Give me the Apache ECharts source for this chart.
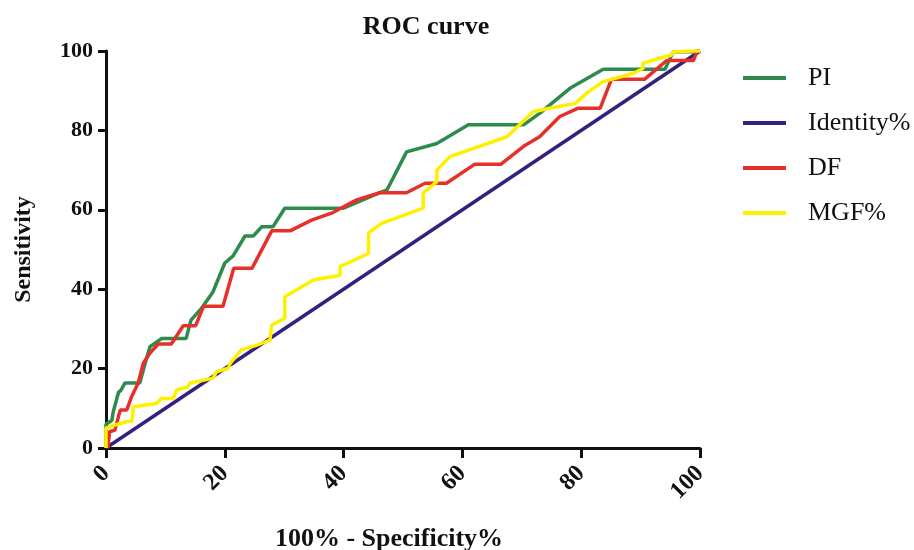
<!DOCTYPE html>
<html>
<head>
<meta charset="utf-8">
<script src="https://cdn.jsdelivr.net/npm/echarts@6/dist/echarts.min.js"></script>
<style>
  html, body { margin: 0; padding: 0; background: #fff; }
  #chart { width: 914px; height: 550px; }
</style>
</head>
<body>
<div id="chart"></div>
<script>
// values: [100% - specificity, sensitivity]
const seriesNames = ['PI', 'Identity%', 'DF', 'MGF%'];
const seriesColors = ['#2f8a4e', '#33207f', '#e8302a', '#fff000'];

const piPoints = [
  [0, 0], [0, 6], [1, 7], [1.2, 9], [2.1, 14], [2.5, 14.5], [3.2, 16.4], [5.7, 16.4],
  [6.6, 21.4], [7.4, 25.5], [9.4, 27.6], [13.5, 27.6], [14.3, 32.2], [16, 35], [18, 39.3],
  [20, 46.6], [21.4, 48.4], [23.4, 53.4], [24.8, 53.4], [26.2, 55.7], [28.1, 55.7],
  [30.1, 60.4], [40, 60.4], [46.1, 64.3], [47.3, 65], [50.6, 74.6], [55.7, 76.7],
  [61, 81.4], [70.3, 81.4], [73, 84.3], [78.1, 90.6], [83.7, 95.4], [94.1, 95.4],
  [95.5, 99.8], [98.8, 99.8], [100, 100]
];

const identityPoints = [[0, 0], [100, 100]];

const dfPoints = [
  [0.3, 0], [0.6, 4.1], [1.5, 4.5], [2.4, 9.6], [3.5, 9.6], [4.3, 12.9], [5.4, 16.3],
  [6.3, 21.4], [7.4, 23.9], [8.8, 26.2], [11, 26.2], [13, 30.8], [15.1, 30.8],
  [16.4, 35.7], [19.7, 35.7], [21.5, 45.3], [24.6, 45.3], [27.9, 54.7], [31, 54.7],
  [34.6, 57.4], [38.2, 59.3], [42.2, 62.5], [46.1, 64.3], [50.6, 64.3], [53.7, 66.7],
  [57.3, 66.7], [62.1, 71.5], [66.5, 71.5], [70.3, 76], [73, 78.4], [76.4, 83.5],
  [79.5, 85.6], [83.2, 85.6], [85.1, 92.9], [90.7, 92.9], [94.4, 97.6], [98.9, 97.6],
  [99.5, 100], [100, 100]
];

const mgfPoints = [
  [0, 0], [0, 5], [1.5, 5.8], [3.5, 6.6], [4.4, 6.8], [4.6, 10.4], [8.5, 11.2],
  [9.4, 12.5], [11.3, 12.5], [11.9, 14.6], [13.8, 15.4], [14.1, 16.3], [18, 17.6],
  [18.6, 19.2], [20.6, 20.1], [20.9, 21.3], [22.8, 24.7], [25.4, 25.9], [27.6, 27.2],
  [27.9, 31], [30.1, 32.7], [30.1, 38.1], [34.9, 42.3], [39.4, 43.5], [39.4, 45.7],
  [44.2, 49], [44.2, 54.2], [46.4, 56.6], [53.4, 60.4], [53.4, 64.2], [55.7, 67.1],
  [55.7, 70], [57.9, 73.4], [67.5, 78.4], [71.9, 84.7], [74.7, 85.6], [79, 86.8],
  [81.2, 89.7], [83.7, 92.3], [88.8, 94.4], [90.4, 95.6], [90.4, 96.9], [93, 98.1],
  [95.2, 99], [95.5, 99.8], [98.8, 100], [100, 100]
];

const seriesPoints = [piPoints, identityPoints, dfPoints, mgfPoints];
const seriesZ = [2, 1, 3, 4];

const serif = '"Liberation Serif", "DejaVu Serif", serif';

const chart = echarts.init(document.getElementById('chart'));

const axisCommon = {
  type: 'value',
  min: 0,
  max: 100,
  interval: 20,
  axisLine: { show: true, lineStyle: { color: '#111', width: 3 } },
  axisTick: { show: true, length: 8, lineStyle: { color: '#111', width: 3 } },
  splitLine: { show: false }
};

chart.setOption({
  backgroundColor: '#fff',
  animation: false,
  title: {
    text: 'ROC curve',
    left: 421,
    top: 9,
    textAlign: 'center',
    textStyle: { fontFamily: serif, fontWeight: 'bold', fontSize: 26, color: '#111' }
  },
  legend: {
    orient: 'vertical',
    left: 738,
    top: 60,
    data: seriesNames,
    icon: 'rect',
    itemWidth: 43,
    itemHeight: 4,
    itemGap: 19,
    textStyle: {
      fontFamily: serif,
      fontSize: 26,
      color: '#111',
      padding: [0, 0, 0, 17]
    }
  },
  grid: { left: 106, right: 214, top: 51, bottom: 102, outerBoundsMode: 'none' },
  xAxis: Object.assign({}, axisCommon, {
    name: '100% - Specificity%',
    nameLocation: 'middle',
    nameGap: 78,
    nameTextStyle: {
      fontFamily: serif, fontWeight: 'bold', fontSize: 26, color: '#111',
      padding: [0, 28, 0, 0]
    },
    axisTick: { show: true, length: 10, lineStyle: { color: '#111', width: 3 } },
    axisLabel: {
      rotate: 45,
      margin: 22,
      fontFamily: serif,
      fontWeight: 'bold',
      fontSize: 24,
      color: '#111'
    }
  }),
  yAxis: Object.assign({}, axisCommon, {
    name: 'Sensitivity',
    nameLocation: 'middle',
    nameGap: 70,
    nameTextStyle: { fontFamily: serif, fontWeight: 'bold', fontSize: 24, color: '#111' },
    axisLabel: {
      margin: 13,
      fontFamily: serif,
      fontWeight: 'bold',
      fontSize: 22,
      color: '#111'
    }
  }),
  series: seriesNames.map((name, i) => ({
    name: name,
    type: 'line',
    data: seriesPoints[i],
    z: seriesZ[i],
    symbol: 'none',
    color: seriesColors[i],
    lineStyle: { width: 3.5, color: seriesColors[i] }
  }))
});
</script>
</body>
</html>
